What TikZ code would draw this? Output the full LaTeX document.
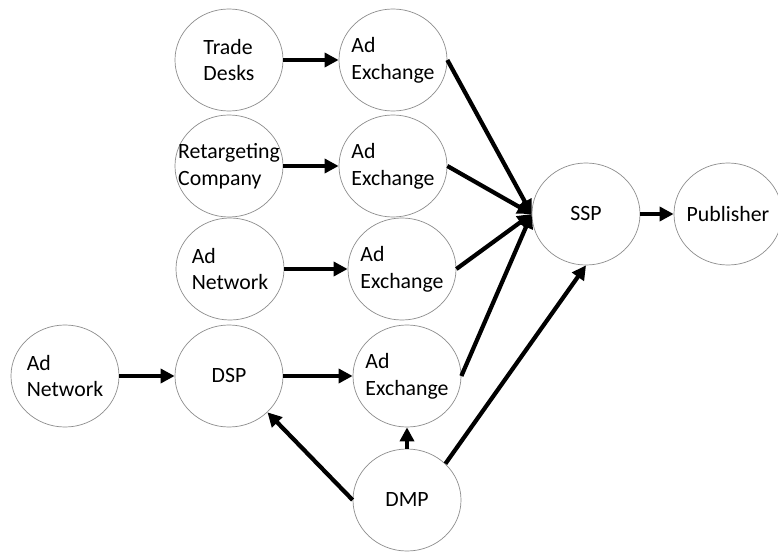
\documentclass[tikz,border=0pt]{standalone}
\usepackage{fontspec}
\setmainfont{Carlito}
\usetikzlibrary{arrows.meta,shapes.geometric}

\begin{document}
\begin{tikzpicture}[x=0.025cm,y=-0.025cm,->,>={Triangle[length=10pt,width=10pt]},
  line width=3pt,main node/.style={ellipse,draw=black!45,line width=0.5pt,
  minimum width=2.7cm,minimum height=2.55cm,inner sep=-12pt,align=left,
  font=\fontsize{15.5}{19}\selectfont}]

  \useasboundingbox (0,0) rectangle (778,552);

  \node[main node] (TD) at (229,60) {Trade\\Desks};
  \node[main node] (AE1) at (393,60) {Ad\\Exchange};
  \node[main node] (RC) at (229,166) {Retargeting\\Company};
  \node[main node] (AE2) at (393,166) {Ad\\Exchange};
  \node[main node] (AN) at (230,269) {Ad\\Network};
  \node[main node] (AE3) at (402,269) {Ad\\Exchange};
  \node[main node] (ANW) at (65,376) {Ad\\Network};
  \node[main node] (DSP) at (229,376) {DSP};
  \node[main node] (AE4) at (407,376) {Ad\\Exchange};
  \node[main node] (DMP) at (407,500) {DMP};
  \node[main node] (SSP) at (586,214) {SSP};
  \node[main node] (PUB) at (728,214) {Publisher};

  \path
    (TD) edge (AE1)
    (RC) edge (AE2)
    (AN) edge (AE3)
    (ANW) edge (DSP)
    (DSP) edge (AE4)
    % everything meets at the left of the SSP
    (AE1.east) edge (SSP.west)
    (AE2.east) edge (SSP.west)
    (AE3.east) edge (SSP.west)
    (AE4.east) edge (SSP.west)
    (DMP.north) edge (AE4.south)
    (DMP.west) edge (DSP.south east)
    (DMP.north east) edge (SSP.south)
    (SSP) edge (PUB);
\end{tikzpicture}
\end{document}
